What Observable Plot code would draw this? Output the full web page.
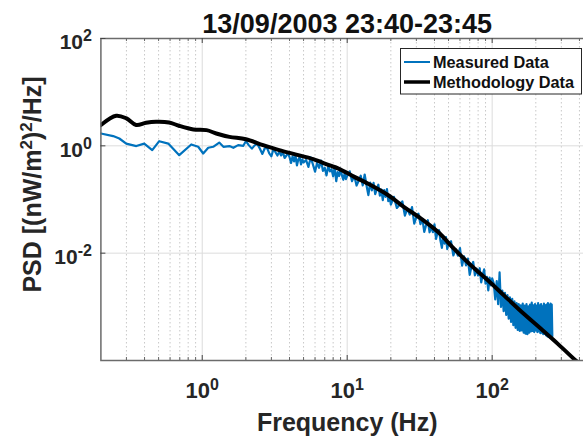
<!DOCTYPE html>
<html><head><meta charset="utf-8">
<script src="https://cdn.jsdelivr.net/npm/d3@7"></script>
<script src="https://cdn.jsdelivr.net/npm/@observablehq/plot@0.6"></script>
<style>
html,body{margin:0;padding:0;overflow:hidden;background:#fff;width:583px;height:437px;}
#chart{position:relative;width:583px;height:437px;overflow:hidden;}
#chart svg{max-width:none !important;width:600px !important;height:437px !important;}
#chart svg text{font-family:"Liberation Sans",Arial,Helvetica,sans-serif;}
</style></head><body><div id="chart"></div>
<script>
const titleText = "13/09/2003 23:40-23:45";
const xLabelText = "Frequency (Hz)";
const yLabelText = "PSD [(nW/m^2)^2/Hz]";
const legendLabels = ["Measured Data", "Methodology Data"];
const seriesColors = ["#0072BD", "#000000"];

const xMajorTicks = [1, 10, 100];
const xTickLabels = ["10^0", "10^1", "10^2"];
const xMinorTicks = [0.3,0.4,0.5,0.6,0.7,0.8,0.9,2,3,4,5,6,7,8,9,20,30,40,50,60,70,80,90,200,300,400];
const yMajorTicks = [1e-2, 1, 1e2];
const yTickLabels = ["10^-2", "10^0", "10^2"];

// Measured Data (Hz, PSD)
const measuredFreq = [
0.2,0.243,0.268,0.299,0.351,0.398,0.452,0.505,0.583,0.694,0.84,0.938,1.016,1.1,1.19,1.31,1.4,1.54,1.64,1.77,1.92,
2,2.1,2.2,2.3,2.4,2.5,2.6,2.7,2.8,2.9,3,3.1,3.2,3.3,3.4,3.5,3.6,3.7,3.8,3.9,4,4.1,4.2,4.3,4.4,4.5,4.6,4.7,4.8,4.9,5,
5.2,5.4,5.6,5.8,6,6.2,6.4,6.6,6.8,7,7.2,7.4,7.6,7.8,8,8.2,8.4,8.6,8.8,9,9.2,9.4,9.6,9.8,10,
10.4,10.8,11.2,11.6,12,12.4,12.8,13.2,13.6,14,14.4,14.8,15.2,15.6,16,16.4,16.8,17.2,17.6,18,18.4,18.8,19.2,19.6,20,
21,22,23,24,25,26,27,28,29,30,31,32,33,34,35,36,37,38,39,40,41,42,43,44,45,46,47,48,49,50,
52,54,56,58,60,62,64,66,68,70,72,74,76,78,80,82,84,86,88,90,92,94,96,98,100,
102.5,105,107.5,110,112.5,115,117.5,120,122.5,125,127.5,130,132.5,135,137.5,140,142.5,145,147.5,150,
152.5,155,157.5,160,162.5,165,167.5,170,172.5,175,177.5,180,182.5,185,187.5,190,192.5,195,197.5,200,
202.5,205,207.5,210,212.5,215,217.5,220,222.5,225,227.5,230,232.5,235,237.5,240,242.5,245,247.5,250,252.5,255,257.5,260];
const measuredPSD = [
1.70,1.52,1.37,1.10,0.99,1.10,0.83,1.22,1.10,0.67,1.06,0.96,0.72,0.92,0.96,1.15,0.96,0.99,0.92,1.03,1.00,
1.22,1.02,0.887,1.02,1.08,0.881,0.706,0.90,0.914,0.721,0.638,0.877,0.760,0.661,0.776,0.662,0.762,0.594,0.653,0.736,0.617,0.481,0.638,0.511,0.662,0.431,0.558,0.617,0.451,0.558,0.490,
0.546,0.404,0.608,0.450,0.330,0.483,0.389,0.532,0.341,0.390,0.281,0.423,0.334,0.366,0.270,0.407,0.219,0.324,0.274,0.374,0.281,0.233,0.305,0.240,0.275,
0.335,0.220,0.275,0.182,0.224,0.277,0.183,0.292,0.181,0.121,0.207,0.148,0.204,0.126,0.157,0.189,0.118,0.153,0.0973,0.149,0.112,0.156,0.0931,0.121,0.080,
0.112,0.0695,0.0798,0.0925,0.0502,0.0675,0.0524,0.0723,0.0356,0.0471,0.0546,0.0347,0.0439,0.0249,0.0331,0.0411,0.0245,0.0312,0.0246,0.0345,0.0184,0.0242,0.0269,0.0170,0.0126,0.0210,0.0151,0.0200,0.0119,0.0152,
0.0167,0.00906,0.0119,0.00899,0.0124,0.00585,0.00871,0.00593,0.00791,0.00395,0.00556,0.00686,0.00387,0.00515,0.00385,0.00524,0.00285,0.00390,0.00498,0.00271,0.00362,0.00203,0.00351,0.00252,0.00338,
0.00275,0.00138,0.00302,0.00112,0.00437,0.00100,0.00200,0.000832,0.00182,0.000708,0.00166,0.000603,0.00151,0.000525,0.00141,0.000457,0.00126,0.000407,0.00117,0.000372,
0.00112,0.000355,0.00107,0.000363,0.00115,0.000331,0.00105,0.000316,0.00112,0.000309,0.00102,0.000331,0.00110,0.000347,0.00120,0.000355,0.00107,0.000339,0.00112,0.000363,
0.00105,0.000339,0.00117,0.000347,0.00107,0.000324,0.00112,0.000331,0.00102,0.000309,0.00115,0.000316,0.00107,0.000295,0.00110,0.000282,0.00117,0.000275,0.00107,0.000269,0.00115,0.000275,0.00110,0.000282];

// Methodology Data (Hz, PSD)
const methodFreq = [0.2,0.255,0.3,0.35,0.41,0.48,0.59,0.69,0.87,1.07,1.25,1.54,2.0,2.63,3.4,4.45,5.83,7.5,8.7,11.2,14.6,19.2,24.7,32.4,42.4,54.7,71.6,93.8,121,166,218,285,379,420];
const methodPSD = [2.44,3.64,3.24,2.44,2.69,2.81,2.73,2.37,2.02,1.96,1.70,1.47,1.33,1.03,0.83,0.687,0.564,0.435,0.377,0.264,0.184,0.120,0.0724,0.0438,0.0247,0.0120,0.00589,0.00309,0.00162,0.000734,0.000385,0.000202,0.0000986,0.0000770];

const measured = measuredFreq.map((f, i) => ({f, p: measuredPSD[i]}));
const method = methodFreq.map((f, i) => ({f, p: methodPSD[i]}));

const W = 600, H = 437, mL = 100.4, mR = 7, mT = 38, mB = 77;
const plotW = W - mL - mR, plotH = H - mT - mB;

const chart = Plot.plot({
  width: W, height: H,
  marginLeft: mL, marginRight: mR, marginTop: mT, marginBottom: mB,
  x: {type: "log", domain: [0.2, 500]},
  y: {type: "log", domain: [1e-4, 1e2]},
  style: {fontFamily: "'Liberation Sans', Arial, sans-serif", background: "#fff", color: "#262626", overflow: "visible", maxWidth: "none"},
  marks: [
    Plot.ruleX(xMinorTicks, {stroke: "#c8c8c8", strokeDasharray: "1.5,2.5", strokeWidth: 1}),
    Plot.ruleX(xMajorTicks, {stroke: "#dcdcdc", strokeWidth: 1}),
    Plot.ruleY(yMajorTicks, {stroke: "#dcdcdc", strokeWidth: 1}),
    Plot.line(measured, {x: "f", y: "p", stroke: seriesColors[0], strokeWidth: 2.2, clip: true}),
    Plot.line(method, {x: "f", y: "p", stroke: seriesColors[1], strokeWidth: 4, clip: true, curve: "catmull-rom"}),
    Plot.frame({stroke: "#6b6b6b", strokeWidth: 1.5}),
    Plot.ruleX(xMajorTicks, {insetTop: plotH - 5, stroke: "#444"}),
    Plot.ruleX(xMajorTicks, {insetBottom: plotH - 5, stroke: "#444"}),
    Plot.ruleX(xMinorTicks, {insetTop: plotH - 3, stroke: "#666"}),
    Plot.ruleX(xMinorTicks, {insetBottom: plotH - 3, stroke: "#666"}),
    Plot.ruleY(yMajorTicks, {insetRight: plotW - 5, stroke: "#444"}),
    Plot.axisX({ticks: xMajorTicks, tickSize: 0, tickPadding: 22, tickFormat: d => xTickLabels[xMajorTicks.indexOf(d)], fontSize: 22, fontWeight: "bold", label: null}),
    Plot.axisY({ticks: yMajorTicks, tickSize: 0, tickPadding: 9, dy: 4, tickFormat: d => yTickLabels[yMajorTicks.indexOf(d)], fontSize: 21, fontWeight: "bold", label: null}),
    Plot.text([titleText], {frameAnchor: "top", textAnchor: "middle", dy: -25, fontSize: 27, fontWeight: "bold", fill: "#111", text: d => d}),
    Plot.text([xLabelText], {frameAnchor: "bottom", textAnchor: "middle", dy: 70, fontSize: 25, fontWeight: "bold", fill: "#262626", text: d => d}),
    Plot.text([yLabelText], {frameAnchor: "left", textAnchor: "middle", rotate: -90, dx: -68, dy: -15, fontSize: 25, fontWeight: "bold", fill: "#262626", text: d => d})
  ]
});
document.getElementById("chart").appendChild(chart);

const svg = d3.select(chart);
// superscripts on tick labels
svg.selectAll('g[aria-label="x-axis tick label"] text, g[aria-label="y-axis tick label"] text').each(function() {
  const t = d3.select(this);
  const s = t.text();
  if (!s.includes("^")) return;
  const [b, e] = s.split("^");
  t.text(b);
  t.append("tspan").attr("dy", "-8").attr("font-size", 16).text(e);
});
// superscripts in y label
svg.selectAll("text").each(function() {
  const t = d3.select(this);
  if (t.text() !== yLabelText) return;
  const parts = [];
  let buf = "";
  for (let i = 0; i < yLabelText.length; i++) {
    if (yLabelText[i] === "^") { if (buf) parts.push([buf, 0]); buf = ""; parts.push([yLabelText[i + 1], 1]); i++; }
    else buf += yLabelText[i];
  }
  if (buf) parts.push([buf, 0]);
  t.text(null);
  let raised = false;
  parts.forEach(([s, sup]) => {
    const ts = t.append("tspan").text(s);
    if (sup) { ts.attr("font-size", 17).attr("dy", raised ? 0 : -9); raised = true; }
    else if (raised) { ts.attr("dy", 9); raised = false; }
  });
});
// legend
const lg = svg.append("g").attr("text-anchor", "start");
lg.append("rect").attr("x", 400.5).attr("y", 48.5).attr("width", 181).attr("height", 45.5)
  .attr("fill", "#fff").attr("stroke", "#262626").attr("stroke-width", 1);
legendLabels.forEach((lab, i) => {
  const yy = 62 + i * 20;
  lg.append("line").attr("x1", 404).attr("x2", 430).attr("y1", yy).attr("y2", yy)
    .attr("stroke", seriesColors[i]).attr("stroke-width", i ? 3.5 : 2);
  lg.append("text").attr("x", 433).attr("y", yy + 5.5).attr("font-size", 16.3).attr("font-weight", "bold")
    .attr("text-anchor", "start").attr("fill", "#111").text(lab);
});
</script></body></html>
